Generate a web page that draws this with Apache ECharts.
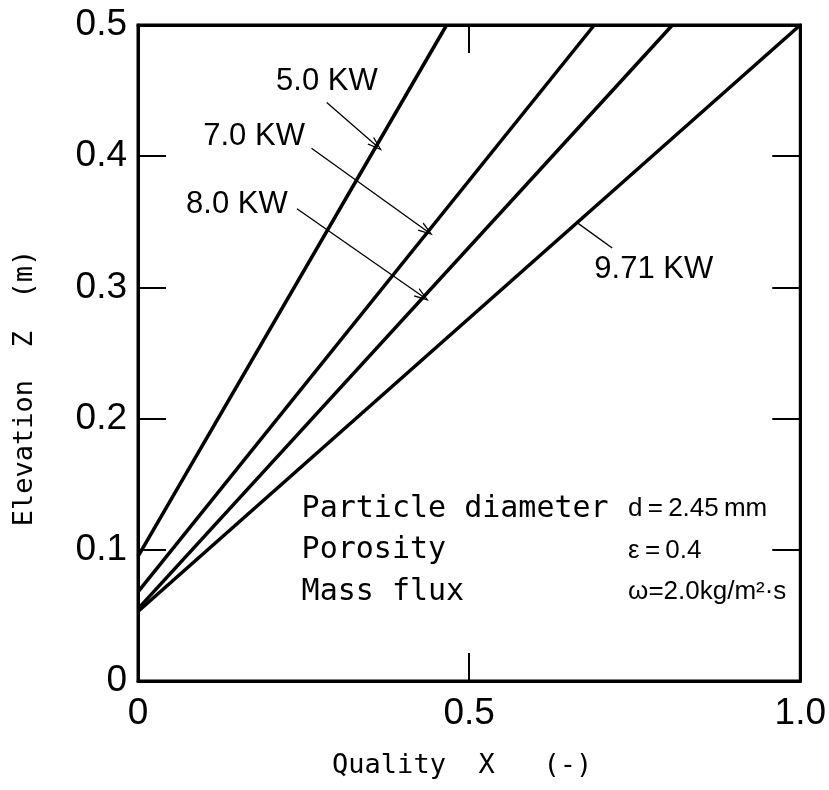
<!DOCTYPE html>
<html>
<head>
<meta charset="utf-8">
<script src="https://cdn.jsdelivr.net/npm/echarts@6/dist/echarts.min.js"></script>
<style>
  html, body { margin: 0; padding: 0; background: #fff; }
  #box { width: 829px; height: 790px; }
</style>
</head>
<body>
<div id="box"></div>
<script>
// heat input of each line
const powers = ['5.0 KW', '7.0 KW', '8.0 KW', '9.71 KW'];
const line50 = [[0, 0.095], [0.466, 0.5]];
const line70 = [[0, 0.068], [0.689, 0.5]];
const line80 = [[0, 0.055], [0.807, 0.5]];
const line971 = [[0, 0.053], [1.0, 0.5]];
// annotation: label anchor, leader start, leader end (data coords)
const labelAt = [[0.362, 0.457], [0.252, 0.415], [0.226, 0.363], [0.689, 0.314]];
const labelAlign = ['right', 'right', 'right', 'left'];
const leaderFrom = [[0.285, 0.441], [0.262, 0.406], [0.240, 0.360], [0.716, 0.330]];
const leaderTo = [[0.360, 0.408], [0.436, 0.343], [0.430, 0.293], [0.664, 0.349]];
const hasArrow = [true, true, true, false];

const infoNames = ['Particle diameter', 'Porosity', 'Mass flux'];
const infoValues = ['d\u2009=\u20092.45\u2009mm', 'ε\u2009=\u20090.4', 'ω=2.0kg/m²·s'];
const infoZ = [0.131, 0.0995, 0.068];

const arrowHead = 'path://M0,0 L4.5,14 L3.3,14 L0,3.5 L-3.3,14 L-4.5,14 Z';

const graph = echarts.init(document.getElementById('box'));

const lines = [line50, line70, line80, line971];
const series = lines.map(function (d, i) {
  return {
    name: powers[i],
    type: 'line',
    data: d,
    showSymbol: false,
    silent: true,
    lineStyle: {color: '#000', width: 3.5},
    markLine: {
      silent: true,
      symbol: ['none', hasArrow[i] ? arrowHead : 'none'],
      symbolSize: [10, 15],
      label: {show: false},
      lineStyle: {color: '#000', width: 1.3, type: 'solid'},
      data: [[{coord: leaderFrom[i]}, {coord: leaderTo[i]}]]
    }
  };
});

const tickFont = '"Liberation Sans", Arial, sans-serif';
const titleFont = '"DejaVu Sans Mono", monospace';

function tickText(v) {
  return v === 0 ? '0' : v.toFixed(1);
}

graph.setOption({
  animation: false,
  grid: {
    left: 138, right: 27, top: 25, bottom: 109,
    show: true, borderColor: '#000', borderWidth: 3
  },
  xAxis: [
    {
      type: 'value', min: 0, max: 1, interval: 0.5,
      name: 'Quality  X   (-)',
      nameLocation: 'middle', nameGap: 71,
      nameTextStyle: {fontFamily: titleFont, fontSize: 27, color: '#000', padding: [0, 14, 0, 0]},
      axisLine: {onZero: false, lineStyle: {color: '#000', width: 3}},
      axisTick: {inside: true, length: 28, lineStyle: {color: '#000', width: 2}},
      axisLabel: {fontFamily: tickFont, fontSize: 37, color: '#000', margin: 14, formatter: tickText},
      splitLine: {show: false}
    },
    {
      type: 'value', min: 0, max: 1, interval: 0.5, position: 'top',
      axisLine: {onZero: false, lineStyle: {color: '#000', width: 3}},
      axisTick: {inside: true, length: 28, lineStyle: {color: '#000', width: 2}},
      axisLabel: {show: false},
      splitLine: {show: false}
    }
  ],
  yAxis: [
    {
      type: 'value', min: 0, max: 0.5, interval: 0.1,
      name: 'Elevation  Z  (m)',
      nameLocation: 'middle', nameGap: 100,
      nameTextStyle: {fontFamily: titleFont, fontSize: 27, color: '#000', padding: [0, 70, 0, 0]},
      axisLine: {show: true, onZero: false, lineStyle: {color: '#000', width: 3}},
      axisTick: {show: true, inside: true, length: 28, lineStyle: {color: '#000', width: 2}},
      axisLabel: {fontFamily: tickFont, fontSize: 37, color: '#000', margin: 11, formatter: tickText},
      splitLine: {show: false}
    },
    {
      type: 'value', min: 0, max: 0.5, interval: 0.1, position: 'right',
      axisLine: {show: true, onZero: false, lineStyle: {color: '#000', width: 3}},
      axisTick: {show: true, inside: true, length: 28, lineStyle: {color: '#000', width: 2}},
      axisLabel: {show: false},
      splitLine: {show: false}
    }
  ],
  series: series
});

// text annotations placed from data coordinates
const texts = [];
powers.forEach(function (p, i) {
  const pt = graph.convertToPixel({gridIndex: 0}, labelAt[i]);
  texts.push({
    type: 'text', x: pt[0], y: pt[1], silent: true,
    style: {text: p, fontFamily: tickFont, fontSize: 31, fill: '#000',
            align: labelAlign[i], verticalAlign: 'middle'}
  });
});
infoNames.forEach(function (n, i) {
  const a = graph.convertToPixel({gridIndex: 0}, [0.247, infoZ[i]]);
  const b = graph.convertToPixel({gridIndex: 0}, [0.74, infoZ[i]]);
  texts.push({
    type: 'text', x: a[0], y: a[1], silent: true,
    style: {text: n, fontFamily: titleFont, fontSize: 30, fill: '#000',
            align: 'left', verticalAlign: 'middle'}
  });
  texts.push({
    type: 'text', x: b[0], y: b[1], silent: true,
    style: {text: infoValues[i], fontFamily: tickFont, fontSize: 26, fill: '#000',
            align: 'left', verticalAlign: 'middle'}
  });
});
graph.setOption({graphic: texts});

window.addEventListener('resize', function () {
  graph.resize();
});
</script>
</body>
</html>
